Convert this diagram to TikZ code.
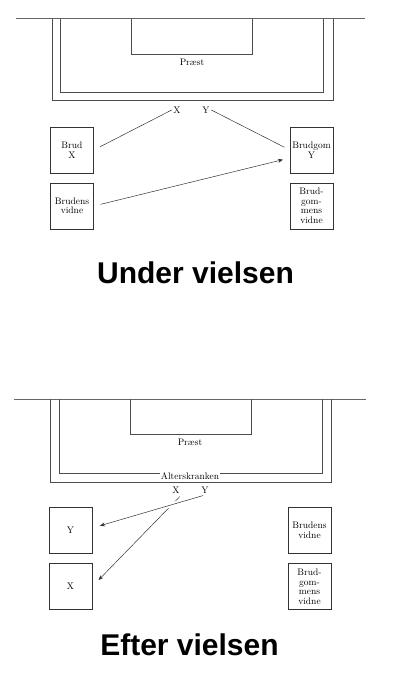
\documentclass[tikz,border=0pt]{standalone}
\usepackage{fontspec}
\setsansfont{Liberation Sans}
\usetikzlibrary{arrows.meta}

\tikzset{
  pew/.style={draw=black!80, minimum width=43pt, minimum height=46pt, inner sep=0pt,
    align=center, font=\fontsize{9.5}{9.5}\selectfont},
  lbl/.style={font=\fontsize{9.5}{10}\selectfont, inner sep=1.5pt},
  heading/.style={font=\fontsize{30}{30}\selectfont\bfseries\sffamily},
  wall/.style={draw=black!60, line width=0.9pt},
  rail/.style={draw=black!70, line width=0.5pt}
}

\begin{document}
\begin{tikzpicture}[x=1pt, y=-1pt, line width=0.5pt, >={Stealth[length=5pt,width=4pt]}]
  \useasboundingbox (0,0) rectangle (400,678);

% under vielsen
\draw [wall] (16,18.5) -- (365,18.5);
\draw [rail] (52,18.5) |- (333,100) -- (333,18.5);
\draw [rail] (60,18.5) |- (323,92) -- (323,18.5);
\draw [rail] (131,18.5) |- (252,54) -- (252,18.5);
\node [lbl] (praest1) at (192,62) {Præst};

\node [lbl] (x1) at (177,110) {X};
\node [lbl] (y1) at (206,110) {Y};

\node [pew] (brud) at (72,150) {Brud\\X};
\node [pew] (brudvidne) at (72,206) {Brudens\\vidne};
\node [pew] (gom) at (311.5,150) {Brudgom\\Y};
\node [pew] (gomvidne) at (311.5,206) {Brud-\\gom-\\mens\\vidne};

\draw [black!80, shorten >=7pt] (x1.west) -- (brud.east);
\draw [black!80, shorten >=6pt] (y1.east) -- (gom.west);
\draw [black!80, ->, shorten <=7pt, shorten >=7pt] (brudvidne.east) -- ([yshift=-8pt]gom.west);

\node [heading] (under) at (195.5,273) {Under vielsen};

% efter vielsen
\draw [wall] (14,399) -- (366,399);
\draw [rail] (50,399) |- (331,482) -- (331,399);
\draw [rail] (59,399) |- (322,473) -- (322,399);
\draw [rail] (130,399) |- (251,434) -- (251,399);
\node [lbl] (praest2) at (190,442) {Præst};
\node [lbl, fill=white, inner sep=1pt] (skranke) at (190,476) {Alterskranken};

\node [lbl] (x2) at (176,490) {X};
\node [lbl] (y2) at (205,490) {Y};

\node [pew] (ny) at (70.5,530) {Y};
\node [pew] (nx) at (70.5,586.5) {X};
\node [pew] (brudvidne2) at (309.5,530) {Brudens\\vidne};
\node [pew] (gomvidne2) at (309.5,586.5) {Brud-\\gom-\\mens\\vidne};

\draw [black!80, ->, shorten <=2pt, shorten >=9pt] (x2.south east) -- (nx.east);
\draw [black!80, ->, shorten <=2pt, shorten >=8pt, preaction={draw=white, line width=5pt, -}]
  (y2.south) -- ([yshift=2pt]ny.east);

\node [heading] (efter) at (189.5,645) {Efter vielsen};

\end{tikzpicture}
\end{document}
